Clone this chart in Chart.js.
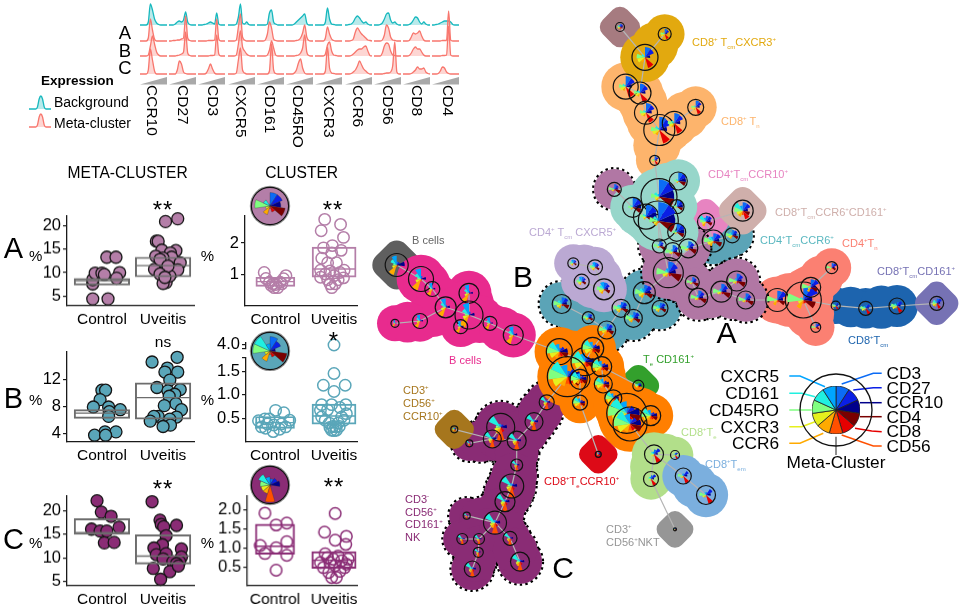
<!DOCTYPE html>
<html lang="en">
<head>
<meta charset="UTF-8" />
<title>Meta-cluster expression and abundance</title>
<script src="https://cdn.jsdelivr.net/npm/chart.js"></script>
<style>
  html, body { margin: 0; background: #fff; }
  #page { position: relative; width: 963px; height: 605px; overflow: hidden; font-family: "Liberation Sans", Arial, sans-serif; color: #000; }
  #page canvas { position: absolute; }
  .txt { position: absolute; white-space: nowrap; line-height: 1; transform: translateY(-50%); }
  .txt sup, .txt sub { font-size: 55%; line-height: 0; }
  .vert { position: absolute; writing-mode: vertical-rl; white-space: nowrap; line-height: 1; transform: translateX(-50%); }
  .ramp { position: absolute; background: #a9a9a9; clip-path: polygon(0 100%, 100% 0, 100% 100%); }
</style>
</head>
<body>
<div id="page"></div>
<script>
// ---- marker expression densities, one row each: background, A, B, C
const markers = ['CCR10', 'CD27', 'CD3', 'CXCR5', 'CD161', 'CD45RO', 'CXCR3', 'CCR6', 'CD56', 'CD8', 'CD4'];
const densCCR10 = [[0,0,0,0,3,21,15,6,2,.5,0,0,0,0],[0,0,0,0,3,22,11,2,0,0,0,0,0,0],[0,0,0,0,1,10,20,12,4,1,0,0,0,0],[0,0,0,0,4,25,14,3,0,0,0,0,0,0]];
const densCD27 = [[0,0,0,1,3,4,3,5,13,3,.5,0,0,0],[0,0,.5,.5,1,1,2,3,25,3,.5,0,0,0],[0,0,0,0,.5,1,2,4,24,3,.5,0,0,0],[0,0,0,0,4,13,10,2,.5,0,0,0,0,0]];
const densCD3 = [[0,0,0,.5,1,2,3,2,1,12,1,0,0,0],[0,0,0,0,0,.5,.5,.5,1,22,2,0,0,0],[0,0,0,0,0,0,.5,.5,1,21,2,0,0,0],[0,0,0,0,1,5,10,5,1,0,0,0,0,0]];
const densCXCR5 = [[0,0,0,0,1,8,21,2,1,3,.5,0,0,0],[0,0,0,0,1,14,27,4,1,0,0,0,0,0],[0,0,0,0,1,12,25,9,5,2,.5,0,0,0],[0,0,0,0,1,14,26,4,1,0,0,0,0,0]];
const densCD161 = [[0,0,0,0,0,1,12,15,3,1,0,0,0,0],[0,0,0,0,1,7,19,13,2,.5,0,0,0,0],[0,0,0,0,0,1,6,15,8,1,0,0,0,0],[0,0,0,0,0,0,3,30,4,.5,0,0,0,0]];
const densCD45RO = [[0,0,0,0,1,3,5,7,9,11,2,0,0,0],[0,0,0,0,0,.5,1,3,8,16,4,.5,0,0],[0,0,0,0,0,.5,1,3,8,21,4,.5,0,0],[0,0,0,0,1,4,11,15,6,1,0,0,0,0]];
const densCXCR3 = [[0,0,0,0,0,3,17,6,1,.5,0,0,0,0],[0,0,0,0,0,3,14,7,2,.5,0,0,0,0],[0,0,0,0,0,2,11,14,5,1,.5,0,0,0],[0,0,0,0,0,3,27,6,1,.5,0,0,0,0]];
const densCCR6 = [[0,0,.5,1,3,7,9,7,4,2,3,1,0,0],[0,0,0,.5,2,9,13,10,7,5,3,1,.5,0],[0,0,0,.5,2,4,6,7,7,9,10,5,.5,0],[0,0,0,.5,2,4,8,13,9,5,3,1,0,0]];
const densCD56 = [[0,0,0,.5,2,6,11,12,5,2,3,1,0,0],[0,0,0,0,1,6,16,13,4,1,.5,0,0,0],[0,0,0,0,3,10,13,12,5,1,.5,0,0,0],[0,0,0,0,0,.5,1,1,2,8,32,2,0,0]];
const densCD8 = [[0,0,0,.5,2,5,8,7,3,1,3,1,0,0],[0,0,0,.5,4,8,7,8,10,5,1,0,0,0],[0,0,0,.5,3,7,9,7,7,4,1,0,0,0],[0,0,0,0,.5,2,4,7,5,5,6,2,.5,0]];
const densCD4 = [[0,0,.5,1,2,3,4,4,4,3,.5,0,0,0],[0,0,0,0,0,.5,.5,.5,30,1,0,0,0,0],[0,0,0,0,0,.5,.5,1,30,1,0,0,0,0],[0,0,0,.5,3,7,6,2,.5,0,0,0,0,0]];
const keyCurve = [0,0,0,0,0,2,10,13,10,2,0,0,0,0];

// ---- abundance per donor
const groupNames = ['Control', 'Uveitis'];
const metaACtrlX = [.85,1.10,.85,.85,.89,1,1.04,1.29,1.24,1.08,1.23];
const metaACtrlY = [4.4,4.4,7.6,8.5,9.9,9.9,9.6,10,8.8,13.3,13.3];
const metaAUveX = [2.04,2.24,1.89,1.92,1.98,2.21,2.12,1.88,2.14,2,2.28,1.86,2,2.16,2.24,2.05,2,2.11,1.95,2.08,1.95,2.03];
const metaAUveY = [20.9,21.5,16.7,16.7,14.8,14.7,14.2,13.5,13.3,13.1,12.1,10.7,10.1,10.1,10.6,7.9,7.7,9.3,12.8,11.4,9.7,9];
const metaABox = [[7.36,8.26,8.75],[9.1,11.5,13.3]];
const metaBCtrlX = [1,1.06,.97,.86,1.11,1.3,1.12,1.11,1.05,1.23,.88,1.06];
const metaBCtrlY = [10.4,10.4,9,7.9,7.9,7.5,7.2,6.5,4.2,4.2,3.7,3.7];
const metaBUveX = [1.82,2.23,2.07,2.24,2.03,2.11,1.9,2.28,2.08,2.19,2.1,2.21,2.02,2.3,2.22,1.92,1.85,1.79,2.11,2.12,2];
const metaBUveY = [14.6,15.3,13.7,13.1,13.1,11.9,10.8,10.5,10.3,9.8,9.5,8.4,8.1,7.5,6.4,6.5,6.5,5.8,6.1,5.2,5];
const metaBBox = [[6.2,7,7.5],[6.1,9.3,11.5]];
const metaCCtrlX = [.92,.99,1.15,.83,.97,1.08,1.28,1.04,1.2];
const metaCCtrlY = [22.1,19.7,18.8,16.1,15.7,15.7,16.5,13.2,13.3];
const metaCUveX = [1.82,2.22,1.95,1.97,2.01,2.05,1.99,1.85,2.3,1.89,2.05,2.3,2,2.16,2.27,2.22,1.84,2.11,2.25,1.96];
const metaCUveY = [21.9,16.9,18,17.1,16.6,14.7,12.8,12.1,11.9,10.7,10.9,10.2,9.8,9.2,9.2,8.8,7.8,7.1,8.3,5.5];
const metaCBox = [[15,15.4,18.3],[8.7,10.4,14.9]];

const clusACtrlX = [.81,.84,1.18,1.14,.9,1.08,.96,1.01,.98,1.04,.93,1.11];
const clusACtrlY = [1.07,.88,.97,.87,.76,.76,.71,.69,.59,.59,.66,.71];
const clusAUveX = [1.84,1.78,2.11,2.16,1.82,1.97,2.12,1.79,1.96,1.89,2.04,1.77,1.93,2.17,2.1,1.85,1.77,2,2.16,1.89,2.07,1.93,2.02,1.96];
const clusAUveY = [2.75,2.39,2.59,2.18,1.85,1.92,1.77,1.52,1.69,1.38,1.38,1.14,1.12,1.14,1.07,1.02,.92,.97,.9,.84,.84,.71,.71,.59];
const clusABox = [[.63,.78,.92],[.92,1.18,1.87]];
const clusBCtrlX = [1.01,1.15,.83,.72,.9,1.25,.77,.87,.98,1.11,1.18,.97,.84,1.08];
const clusBCtrlY = [.67,.62,.49,.45,.49,.46,.32,.38,.36,.38,.32,.22,.29,.27];
const clusBUveX = [2,1.82,2.19,2,1.79,1.96,2.2,2.1,1.77,1.89,2.21,1.79,2.13,1.85,2.17,1.92,2.07,1.98,2.03,1.93,2.09,2,1.96,2.04];
const clusBUveY = [1.45,1.2,1.2,1.07,.79,.79,.79,.73,.67,.68,.6,.53,.53,.46,.46,.4,.4,.33,.32,.31,.33,.24,.25,.25];
const clusBTopX = [2];
const clusBTopY = [4.0];
const clusBBox = [[.29,.41,.54],[.38,.55,.8]];
const clusCCtrlX = [.83,1.02,1.2,1.2,.75,1.02,.83,1.2,1.02];
const clusCCtrlY = [1.91,1.6,1.65,1.16,1.06,1,.85,.8,.41];
const clusCUveX = [2.02,1.84,2.21,2.02,2.2,1.85,1.89,2.07,1.77,1.93,2.13,2.24,1.82,2.02,2.18,1.91,2.1,1.96,2.04,2.21,1.99];
const clusCUveY = [1.9,1.41,1.3,1.2,1.09,.84,.74,.78,.61,.61,.66,.7,.48,.53,.48,.35,.38,.22,.22,.57,.7];
const clusCBox = [[.83,1.04,1.62],[.46,.67,.9]];

// ---- network: one entry per node, in picture coordinates of the layout
const markerOrder = ['CD3','CD27','CCR10','CD4','CD8','CD56','CCR6','CXCR3','CD45RO','CD161','CXCR5'];
const markerColors = ['#0b6bf5','#0a1fe6','#00008b','#7a0000','#e60000','#ff5000','#ffaa00','#e6f01e','#80ff80','#20f0e0','#00a5ff'];
const clusterColors = ['#fdb46c','#a67b80','#e2a90f','#1d64ae','#7672b4','#fb8072','#e784c1','#b177a4','#5ba4b7','#97d6ca','#cfafab','#bba9d3','#5f5f5f','#e82b8e','#ff7f00','#33a02c','#dd0a17','#b2df8a','#7bafde','#969696','#a6761d','#8a2c75'];
const clusterDotted = [7, 8, 21];
const blobOrder = [0,1,2,12,13,21,3,5,4,8,6,7,9,10,11,15,14,16,17,18,19,20];
const clusterProfile = [
  [.85,.8,.5,.1,.9,.1,.35,.45,.55,.3,.15],[.7,.7,.6,.4,.5,.3,.5,.5,.6,.5,.4],[.8,.75,.4,.1,.85,.1,.4,.6,.65,.3,.1],
  [.5,.7,.45,.1,.9,.1,.35,.6,.75,.4,.2],[.7,.8,.5,.3,.8,.2,.5,.6,.6,.6,.3],[.8,.9,.5,.7,.2,.2,.5,.3,.9,.2,.1],
  [.7,.75,.55,.75,.2,.15,.6,.5,.7,.9,.5],[.75,.7,.5,.9,.25,.1,.3,.4,.8,.25,.3],[.7,.75,.55,.8,.25,.15,.5,.55,.85,.5,.4],
  [.95,.95,.85,.85,.1,.1,.25,.25,.45,.3,.15],[.8,.8,.5,.7,.85,.4,.6,.6,.8,.9,.5],[.65,.6,.4,.6,.15,.1,.45,.5,.7,.5,.7],
  [.3,.3,.7,.15,.1,.2,.9,.4,.3,.6,.8],[.25,.15,.4,.1,.1,.2,.95,.45,.3,.55,.85],[.3,.45,.65,.7,.4,.35,.5,.75,.95,.9,.6],
  [.5,.6,.6,.4,.3,.3,.5,.5,.6,.4,.3],[.6,.6,.8,.2,.2,.2,.4,.4,.4,.4,.4],[.5,.75,.4,.1,.95,.1,.25,.3,.4,.35,.3],
  [.3,.75,.5,.1,.95,.1,.3,.4,.7,.2,.3],[1,1,1,1,1,1,1,1,1,1,1],[.5,.5,.5,.5,.5,.5,.5,.5,.5,.5,.5],[.2,.25,.45,.1,.35,.95,.5,.45,.35,.95,.25]
];
const nodeCluster = [0,0,0,0,0,0,0, 1, 2,2, 3,3,3, 4, 5,5,5,5,5, 6,8, 7,7,7,7,7,7,7,7,7,7, 8,8,8,8,8,8,8,8, 9,9,9,9,9,9,9, 10, 11,11,11,11, 12, 13,13,13,13,13,13,13,13,13,13, 14,14,14,14,14,14,14,14,14,14,14,14, 15, 16, 17,17,17, 18,18, 19, 20, 21,21,21,21,21,21,21,21,21,21,21,21,21,21,21,21,21];
const nodeX = [625.7,640,646,659.3,674.3,695.7,654.7, 620, 664.7,645, 835.7,865.7,897, 936.7, 777.3,803.3,810.7,831.7,815.7, 706,713.3, 614.3,659.3,672.7,688.3,668.3,692.3,698.3,721.3,736.7,745.7, 561.7,588.3,606.7,621,633.3,644.3,660,732.3, 659,678.3,632.7,677,646,658.3,676.7, 742.7, 573.3,595,581.7,604, 396.7, 421,432.3,469,445.7,469,420,395,460.7,490,513.3, 559.3,585,592.7,601.7,603.3,567.3,580,580,613.3,626.7,650.7,630, 638.3, 598.3, 654,675,651, 683.3,706, 675, 454.3, 469.3,500.7,492.3,516.7,534,546.7,516.7,511.7,505,495,466.7,462.3,479,478.3,472.3,510,520];
const nodeY = [86.7,93,112.7,130,123.3,107.3,160.3, 27, 34,57.3, 305.7,308.3,306, 303.3, 300,300,287.3,267.7,327.3, 221.7,241, 189.3,246,251.7,248.3,272.7,282.3,297.7,291.7,281,300, 304,317.7,330,308.3,318.3,292.7,308.3,235.3, 196.7,181,207.3,206.7,216.7,221,232.3, 210.7, 263.3,267.3,281.7,289.3, 265, 279,289,293.3,307.3,315,321,323.3,326.7,323.3,335, 351.7,361.7,348.3,366.7,384,376.7,379.3,402.7,398.3,413.3,415.7,424, 385.7, 454.3, 454.3,455,479, 476,495, 529.3, 429.3, 443.3,427.3,439,440.7,421.7,402.3,465,486,501.7,522.7,515.7,539,539,552.3,569,538.3,561.7];
const nodeSize = [12.5,11,11.5,15.5,12,8,5, 4.5, 6.5,13, 4.5,7,8, 7, 11.5,18,10,6,5, 8.5,11, 7,7,9,9.5,15,7,9.5,10.5,10,9, 9.5,6,9,9,9,11,8,7.5, 18,9,10,7,12.5,20,9, 10.5, 5.5,7.5,7.5,10.5, 11.5, 12.5,7.5,10,10.5,14,7.5,4,7,7,10, 13,14,11,10,9,20,10,7.5,8.5,20,10,17, 5.5, 3, 9.5,4.5,7.5, 8,9.5, 1.5, 3.5, 3.5,14,9,9.5,9,7.5,6,12,10,11.5,3.5,5.5,5.5,5,8,7,9.5];
const edgeFrom = [7,8,9,0,1,2,3,4,3,6,39,41,44,21,40,42,45,44,22,23,25,24,20,20,19,25,26,27,28,28,30,25,36,35,34,50,48,50,34,33,32,33,10,11,12,15,14,15,16,15,51,52,53,55,54,56,55,57,56,60,61,62,63,63,65,63,67,68,66,70,71,71,65,69,73,76,76,76,79,78,82,83,84,85,86,87,88,86,89,90,91,92,92,95,95,96,92,98];
const edgeTo = [9,9,1,1,2,3,4,5,6,39,44,43,25,41,39,39,44,22,23,25,24,20,19,38,46,26,27,28,29,30,14,36,35,34,50,48,47,49,33,32,31,64,11,12,13,10,15,16,17,18,52,53,55,56,56,59,57,58,60,61,62,63,64,65,66,67,68,69,70,71,72,73,74,75,76,77,78,79,80,81,85,85,85,86,87,88,67,89,90,91,92,93,95,94,96,97,98,99];

// legend of the star glyph and its leader lines
const legendCentre = [836, 410];
const leaderNames = ['CXCR5','CD161','CD45RO','CXCR3','CCR6','CD3','CD27','CCR10','CD4','CD8','CD56'];
const leaderPaths = [
  [[789.3,376],[800,376],[825,386.7]], [[789.3,393.3],[801.7,393.3],[815,396.7]], [[789.3,410],[811.7,410]],
  [[789.3,426.7],[801.7,426.7],[815,421.7]], [[789.3,443.3],[800,443.3],[823.3,433.3]], [[841.7,384],[873.3,373.3],[881.7,373.3]],
  [[853.3,390],[873.3,387.7],[881.7,387.7]], [[860,402.7],[881.7,402.7]], [[860,416.7],[881.7,416.7]],
  [[855,428.3],[871.7,431],[881.7,431.7]], [[841.7,435],[873.3,446],[881.7,446]]
];
const insetA = [.75,.75,.6,.85,.35,.15,.5,.25,.85,.4,.1];
const insetB = [.8,.65,.3,.95,.35,.2,.6,.3,.95,.95,.4];
const insetC = [.35,.45,.55,.05,.1,.95,.5,.5,.55,.7,.45];

Chart.defaults.font.family = '"Liberation Sans", Arial, sans-serif';
Chart.defaults.animation = false;
Chart.defaults.responsive = false;
Chart.defaults.events = [];
Chart.defaults.layout.autoPadding = false;
Chart.defaults.plugins.legend.display = false;
Chart.defaults.plugins.tooltip.enabled = false;

const page = document.getElementById('page');

function addCanvas(left, top, w, h) {
  const c = document.createElement('canvas');
  c.width = w; c.height = h;
  c.style.left = left + 'px'; c.style.top = top + 'px';
  c.style.width = w + 'px'; c.style.height = h + 'px';
  page.appendChild(c);
  return c;
}

function text(html, x, y, size, color, extra) {
  const d = document.createElement('div');
  d.className = 'txt';
  d.innerHTML = html;
  d.style.left = x + 'px'; d.style.top = y + 'px';
  d.style.fontSize = size + 'px';
  d.style.color = color || '#000';
  if (extra) Object.assign(d.style, extra);
  page.appendChild(d);
  return d;
}
const centred = (html, x, y, size, color) => text(html, x, y, size, color, { transform: 'translate(-50%,-50%)' });
const rightAt = (html, x, y, size) => text(html, x, y, size, '#000', { transform: 'translate(-100%,-50%)' });

// one density curve, 1 unit is 1 px tall
function density(left, base, w, values, line, fill) {
  const c = addCanvas(left - 2, base - 36, w + 4, 38);
  new Chart(c, {
    type: 'line',
    data: {
      labels: values.map((v, i) => i),
      datasets: [{ data: values, borderColor: line, backgroundColor: fill, borderWidth: 1.3, fill: 'origin', pointRadius: 0, cubicInterpolationMode: 'monotone', clip: false }]
    },
    options: {
      layout: { padding: { left: 2, right: 2, top: 0, bottom: 2 } },
      scales: { x: { display: false }, y: { display: false, min: 0, max: 36 } }
    }
  });
}

const densities = [densCCR10, densCD27, densCD3, densCXCR5, densCD161, densCD45RO, densCXCR3, densCCR6, densCD56, densCD8, densCD4];
const panelLeft = [140, 169, 198, 228, 257, 286, 315, 345, 374, 403, 432];
const labelX = [152, 183, 213, 241, 270, 298, 329, 358, 388, 417, 448];
const rowBase = [25, 40.5, 56, 74];
markers.forEach((name, m) => {
  densities[m].forEach((vals, r) => {
    if (r === 0) density(panelLeft[m], rowBase[r], 27, vals, '#17b8be', 'rgba(23,184,190,.3)');
    else density(panelLeft[m], rowBase[r], 27, vals, '#f8766d', 'rgba(248,118,109,.3)');
  });
  const ramp = document.createElement('div');
  ramp.className = 'ramp';
  ramp.style.cssText = `left:${panelLeft[m]}px;top:77px;width:27px;height:7.5px`;
  page.appendChild(ramp);
  const v = document.createElement('div');
  v.className = 'vert';
  v.textContent = name;
  v.style.cssText = `left:${labelX[m]}px;top:85px;font-size:15.5px`;
  page.appendChild(v);
});
centred('A', 125, 33, 18.5); centred('B', 125, 50.5, 18.5); centred('C', 125, 68, 18.5);
text('<b>Expression</b>', 41, 81, 13.5);
density(29, 109, 22, keyCurve, '#17b8be', 'rgba(23,184,190,.3)');
density(29, 127, 22, keyCurve, '#f8766d', 'rgba(248,118,109,.3)');
text('Background', 54, 102, 14);
text('Meta-cluster', 54, 123, 14);

// jittered dots with box on a 1/2 x scale
function panel(o) {
  const yW = 46, xH = o.labels ? 24 : 0, padTop = 10, padRight = 10, padBottom = o.padBottom || 0;
  const w = (o.right - o.axis) + yW + padRight;
  const h = (o.bottom - o.top) + padTop + xH + padBottom;
  const unit = o.c2 - o.c1;
  const xmin = 1 - (o.c1 - o.axis) / unit, xmax = 2 + (o.right - o.c2) / unit;
  const dots = (xs, ys) => xs.map((x, i) => ({ x, y: ys[i] }));
  const ds = [];
  o.groups.forEach(g => ds.push({
    type: 'scatter', order: 3, data: dots(g[0], g[1]), clip: false,
    pointRadius: o.radius, pointBorderWidth: o.hollow ? 1.5 : 1.3,
    pointBackgroundColor: o.hollow ? 'transparent' : o.color, pointBorderColor: o.hollow ? o.color : '#151515'
  }));
  (o.boxes || []).forEach((b, i) => {
    const col = o.hollow ? o.color : '#6d6d6d';
    ds.push({
      type: 'bar', order: 1, grouped: false, data: [{ x: i + 1, y: [b[0], b[2]] }], barThickness: o.boxW[i],
      borderColor: col, borderWidth: 1.3, borderSkipped: false, backgroundColor: 'transparent'
    });
    ds.push({
      type: 'line', order: 0, showLine: true, pointRadius: 0, borderColor: col, borderWidth: 1.3,
      data: [{ x: i + 1 - o.boxW[i] / 2 / unit, y: b[1] }, { x: i + 1 + o.boxW[i] / 2 / unit, y: b[1] }]
    });
  });
  new Chart(addCanvas(o.axis - yW, o.top - padTop, w, h), {
    type: 'scatter',
    data: { datasets: ds },
    options: {
      layout: { padding: { top: padTop, right: padRight, bottom: padBottom } },
      scales: {
        x: {
          type: 'linear', offset: false, display: !!o.labels, min: xmin, max: xmax,
          grid: { offset: false, drawOnChartArea: false, drawTicks: false },
          border: { color: '#1a1a1a', width: 1.3 },
          afterBuildTicks: s => { s.ticks = [{ value: 1 }, { value: 2 }]; },
          afterFit: s => { s.height = xH; },
          ticks: { color: '#000', font: { size: 15.5 }, padding: 4, maxRotation: 0, autoSkip: false, callback: v => o.labels ? o.labels[v - 1] : '' }
        },
        y: {
          type: 'linear', min: o.ymin, max: o.ymax,
          grid: { drawOnChartArea: false, tickLength: 4, color: '#1a1a1a', lineWidth: 1.2 },
          border: { color: '#1a1a1a', width: 1.3 },
          afterBuildTicks: s => { s.ticks = o.ticks.map(v => ({ value: v })); },
          afterFit: s => { s.width = yW; },
          ticks: { color: '#000', font: { size: 16.5 }, padding: 2, autoSkip: false, callback: v => o.tickText(v) }
        }
      }
    }
  });
}

const whole = v => String(v);
const oneDec = v => v.toFixed(1);
const META = { axis: 66.7, right: 194, c1: 101.7, c2: 163, radius: 6, boxW: [55.5, 55.5], labels: groupNames, tickText: whole };
const CLUS = { right: 357, c1: 275, c2: 334, radius: 5.7, hollow: true, boxW: [39, 44], labels: groupNames };
const colA = '#b47ea8', colB = '#5aa6b9', colC = '#8a2c75';

panel({ ...META, color: colA, top: 214, bottom: 305.7, ymin: 2.92, ymax: 22.08, ticks: [5, 10, 15, 20], groups: [[metaACtrlX, metaACtrlY], [metaAUveX, metaAUveY]], boxes: metaABox });
panel({ ...META, color: colB, top: 350, bottom: 442.3, ymin: 2.69, ymax: 16.1, ticks: [4, 8, 12], groups: [[metaBCtrlX, metaBCtrlY], [metaBUveX, metaBUveY]], boxes: metaBBox });
panel({ ...META, color: colC, top: 494.3, bottom: 586, ymin: 4.11, ymax: 23.1, ticks: [5, 10, 15, 20], groups: [[metaCCtrlX, metaCCtrlY], [metaCUveX, metaCUveY]], boxes: metaCBox });
panel({ ...CLUS, axis: 244.5, color: colA, top: 214, bottom: 306, ymin: 0.01, ymax: 2.86, ticks: [1, 2], tickText: whole, groups: [[clusACtrlX, clusACtrlY], [clusAUveX, clusAUveY]], boxes: clusABox });
panel({ ...CLUS, axis: 246, color: colB, top: 356, bottom: 442.3, ymin: 0, ymax: 1.78, ticks: [.5, 1, 1.5, 1.78], tickText: v => v > 1.7 ? '' : oneDec(v), groups: [[clusBCtrlX, clusBCtrlY], [clusBUveX, clusBUveY]], boxes: clusBBox });
panel({ axis: 246, right: 357, c1: 275, c2: 334, radius: 5.7, hollow: true, color: colB, top: 341, bottom: 352, padBottom: 8, ymin: 3.8, ymax: 4.13, ticks: [3.8, 4], tickText: v => v > 3.9 ? '4.0' : '', groups: [[clusBTopX, clusBTopY]] });
panel({ ...CLUS, axis: 247.3, color: colC, top: 494, bottom: 585.5, ymin: 0, ymax: 2.36, ticks: [.5, 1, 1.5, 2], tickText: oneDec, groups: [[clusCCtrlX, clusCCtrlY], [clusCUveX, clusCUveY]], boxes: clusCBox });

centred('META-CLUSTER', 127.7, 173, 15.6);
centred('CLUSTER', 301.7, 173, 15.6);
[['A', 248], ['B', 398], ['C', 539]].forEach(p => centred(p[0], 13.5, p[1], 29));
[255, 399, 542].forEach(y => { centred('%', 35.7, y, 15); centred('%', 207.5, y, 15); });
const star = (s, x, y) => { const d = centred(s, x, y, 24); d.style.letterSpacing = '1px'; };
star('**', 163, 210); star('**', 333, 210); star('*', 334, 341); star('**', 163, 489); star('**', 334, 487);
centred('ns', 163, 341.5, 15.5);

// star glyphs on the nodes and the dashed outlines
const networkPlugin = {
  id: 'network',
  beforeDatasetDraw(chart, args) {
    const ds = chart.data.datasets[args.index];
    if (!ds.dotted) return;
    const ctx = chart.ctx, els = chart.getDatasetMeta(args.index).data;
    ctx.save();
    ctx.strokeStyle = '#000'; ctx.lineWidth = 2.4; ctx.setLineDash([2.4, 3.2]);
    els.forEach((el, i) => {
      ctx.beginPath();
      ctx.arc(el.x, el.y, ds.pointRadius[i] + .8, 0, Math.PI * 2);
      ctx.stroke();
    });
    ctx.restore();
  },
  afterDatasetsDraw(chart) {
    const ctx = chart.ctx, xs = chart.scales.x, ys = chart.scales.y;
    const step = Math.PI * 2 / markerColors.length;
    nodeX.forEach((nx, i) => {
      const px = xs.getPixelForValue(nx), py = ys.getPixelForValue(nodeY[i]), r = nodeSize[i];
      clusterProfile[nodeCluster[i]].forEach((len, m) => {
        const a0 = -Math.PI / 2 + m * step;
        ctx.beginPath();
        ctx.moveTo(px, py);
        ctx.arc(px, py, r * len, a0, a0 + step);
        ctx.closePath();
        ctx.fillStyle = markerColors[m];
        ctx.fill();
      });
      ctx.beginPath();
      ctx.arc(px, py, r, 0, Math.PI * 2);
      ctx.strokeStyle = '#111';
      ctx.lineWidth = 1.2;
      ctx.stroke();
    });
  }
};

const blobRadius = i => 15 + nodeSize[i] * .75;
const netSets = [];
blobOrder.forEach(c => {
  const ids = nodeX.map((x, i) => i).filter(i => nodeCluster[i] === c);
  const pts = ids.map(i => ({ x: nodeX[i], y: nodeY[i] }));
  const radii = ids.map(blobRadius);
  // bridge the nodes of a cluster along its edges so the hull has no deep notches
  edgeFrom.forEach((f, e) => {
    const t = edgeTo[e];
    if (nodeCluster[f] !== c || nodeCluster[t] !== c) return;
    pts.push({ x: (nodeX[f] + nodeX[t]) / 2, y: (nodeY[f] + nodeY[t]) / 2 });
    radii.push((blobRadius(f) + blobRadius(t)) / 2 + 1);
  });
  const single = ids.length === 1;
  netSets.push({
    data: pts,
    pointRadius: single ? [17.5 + nodeSize[ids[0]] * .6] : radii,
    pointStyle: single ? 'rectRounded' : 'circle',
    pointRotation: single ? 45 : 0,
    pointBackgroundColor: clusterColors[c], pointBorderWidth: 0, clip: false,
    dotted: clusterDotted.includes(c)
  });
});
const edgePts = [];
edgeFrom.forEach((f, i) => {
  edgePts.push({ x: nodeX[f], y: nodeY[f] }, { x: nodeX[edgeTo[i]], y: nodeY[edgeTo[i]] }, { x: NaN, y: NaN });
});
netSets.push({ type: 'line', data: edgePts, showLine: true, spanGaps: false, pointRadius: 0, borderColor: '#b5b5b5', borderWidth: 1.2 });
leaderPaths.forEach((path, i) => netSets.push({
  type: 'line', showLine: true, pointRadius: 0, borderWidth: 1.5, borderColor: markerColors[markerOrder.indexOf(leaderNames[i])],
  data: path.map(p => ({ x: p[0], y: p[1] }))
}));
netSets.push({ type: 'line', showLine: true, pointRadius: 0, borderWidth: 1.3, borderColor: '#555', data: [{ x: 836, y: 436.7 }, { x: 836, y: 455 }] });
netSets.push({ data: [{ x: legendCentre[0], y: legendCentre[1] }], pointRadius: 36, pointBackgroundColor: 'transparent', pointBorderColor: '#111', pointBorderWidth: 1.3 });
netSets.forEach((d, i) => { d.order = netSets.length - i; });

new Chart(addCanvas(360, 0, 603, 605), {
  type: 'scatter',
  data: { datasets: netSets },
  options: {
    scales: {
      x: { type: 'linear', display: false, min: 360, max: 963 },
      y: { type: 'linear', display: false, min: 0, max: 605, reverse: true }
    }
  },
  plugins: [networkPlugin]
});

// polar stars, the three insets and the legend one
function polar(cx, cy, r, values, bg, ring) {
  const c = addCanvas(cx - r, cy - r, r * 2, r * 2);
  if (bg) {
    c.style.background = bg;
    c.style.borderRadius = '50%';
    c.style.boxShadow = '0 0 0 1.2px #111, 0 0 0 2.2px #999';
  }
  new Chart(c, {
    type: 'polarArea',
    data: { labels: markerOrder, datasets: [{ data: values, backgroundColor: markerColors, borderColor: ring, borderWidth: bg ? .3 : .8 }] },
    options: { scales: { r: { display: false, min: 0, max: 1 } } }
  });
}
polar(270, 206, 18, insetA, colA, '#333');
polar(270, 350.7, 18, insetB, colB, '#333');
polar(270, 485, 18, insetC, colC, '#333');
polar(legendCentre[0], legendCentre[1], 24, markerOrder.map(() => 1), null, '#222');

// legend words
[['CXCR5', 377], ['CD161', 394.3], ['CD45RO', 410.7], ['CXCR3', 427.7], ['CCR6', 444]].forEach(p => rightAt(p[0], 779, p[1], 17.3));
[['CD3', 374.3], ['CD27', 389.3], ['CCR10', 403.3], ['CD4', 417.7], ['CD8', 431.7], ['CD56', 446.7]].forEach(p => text(p[0], 886.5, p[1], 17.3));
centred('Meta-Cluster', 836, 463, 17.3);
centred('A', 726.5, 333, 30); centred('B', 523, 277, 30); centred('C', 563, 568, 30);

// cluster names
const L = [
  ['CD8<sup>+</sup> T<sub>cm</sub>CXCR3<sup>+</sup>', 692, 42, '#e2a90f'],
  ['CD8<sup>+</sup> T<sub>n</sub>', 721, 121, '#fdb46c'],
  ['CD4<sup>+</sup>T<sub>cm</sub>CCR10<sup>+</sup>', 708, 174, '#e784c1'],
  ['CD8<sup>+</sup>T<sub>cm</sub>CCR6<sup>+</sup>CD161<sup>+</sup>', 775, 212, '#cfafab'],
  ['CD4<sup>+</sup>T<sub>cm</sub>CCR6<sup>+</sup>', 760, 240, '#5bb8c0'],
  ['CD4<sup>+</sup>T<sub>n</sub>', 842, 243, '#fb8072'],
  ['CD8<sup>+</sup>T<sub>cm</sub>CD161<sup>+</sup>', 877, 271, '#7672b4'],
  ['CD8<sup>+</sup>T<sub>cm</sub>', 848, 340, '#1d64ae'],
  ['CD4<sup>+</sup> T<sub>cm</sub> CXCR5<sup>+</sup>', 529, 232, '#bba9d3'],
  ['B cells', 412, 240, '#666'],
  ['B cells', 449, 360, '#e82b8e'],
  ['T<sub>e</sub> CD161<sup>+</sup>', 643, 359, '#33a02c'],
  ['CD8<sup>+</sup>T<sub>e</sub>', 681, 432, '#b2df8a'],
  ['CD8<sup>+</sup>T<sub>em</sub>', 705, 464, '#7bafde'],
  ['CD8<sup>+</sup>T<sub>e</sub>CCR10<sup>+</sup>', 544, 481, '#dd0a17'],
  ['CD3<sup>+</sup>', 606, 529, '#969696'], ['CD56<sup>+</sup>NKT', 606, 542, '#969696'],
  ['CD3<sup>+</sup>', 403, 390, '#a6761d'], ['CD56<sup>+</sup>', 403, 403, '#a6761d'], ['CCR10<sup>+</sup>', 403, 416, '#a6761d'],
  ['CD3<sup>-</sup>', 405, 499, '#8a2c75'], ['CD56<sup>+</sup>', 405, 511.5, '#8a2c75'], ['CD161<sup>+</sup>', 405, 524, '#8a2c75'], ['NK', 405, 537, '#8a2c75']
];
L.forEach(t => text(t[0], t[1], t[2], 11, t[3]));
</script>
</body>
</html>
